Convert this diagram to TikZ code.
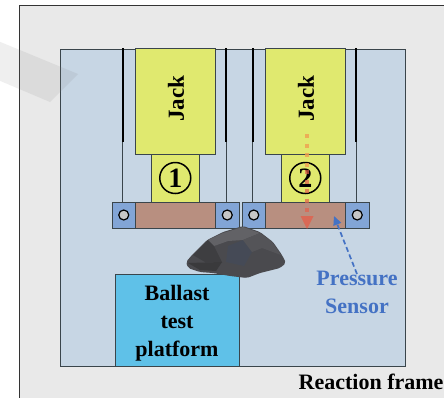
\documentclass[tikz,border=0pt]{standalone}
\usepackage{fontspec}
\setmainfont{Liberation Serif}
\usetikzlibrary{arrows.meta}
\definecolor{panelgray}{HTML}{E9E9E9}
\definecolor{framefill}{HTML}{C7D6E4}
\definecolor{jackfill}{HTML}{E0E96F}
\definecolor{brownfill}{HTML}{B88F80}
\definecolor{bluefill}{HTML}{82A5D6}
\definecolor{platfill}{HTML}{5FC1E8}
\definecolor{senscol}{HTML}{4472C4}
\definecolor{edgecol}{HTML}{3A454B}
\definecolor{rocka}{HTML}{4A4A4E}
\definecolor{rockb}{HTML}{626266}
\definecolor{rockc}{HTML}{3E3E41}
\definecolor{rockd}{HTML}{454A56}
\definecolor{rocke}{HTML}{545458}
\definecolor{rockf}{HTML}{3A3A3C}
\definecolor{loadtop}{HTML}{F0A050}
\definecolor{loadlow}{HTML}{E2604C}
\tikzset{
  lbl/.style={font=\fontsize{22}{28}\selectfont\bfseries,align=center,inner sep=0pt},
  jacklbl/.style={inner sep=0pt,rotate=90,font=\fontsize{23}{27}\selectfont\bfseries},
  boxy/.style={draw=edgecol,line width=.8pt,inner sep=0pt,outer sep=0pt,anchor=north west},
  jackbox/.style={boxy,fill=jackfill,minimum width=80pt,minimum height=105.5pt},
  pistonbox/.style={boxy,fill=jackfill,minimum width=48.5pt,minimum height=48pt},
  brownbox/.style={boxy,fill=brownfill,minimum width=80pt,minimum height=26pt},
  bluebox/.style={boxy,fill=bluefill,minimum width=23.5pt,minimum height=26pt},
  pin/.style={circle,draw=black,line width=1.2pt,fill=gray!45,minimum size=10pt,inner sep=0pt},
  num/.style={circle,draw=black,line width=1.5pt,minimum size=31pt,inner sep=0pt,font=\fontsize{28}{28}\selectfont\bfseries},
  guide/.style={draw=edgecol,line width=.7pt},
  thick guide/.style={draw=black,line width=2pt},
}
\begin{document}
\begin{tikzpicture}[x=1pt,y=-1pt]
\useasboundingbox (0,0) rectangle (444,397);
\begin{scope}
\clip (0,0) rectangle (444,397);
\fill[panelgray] (19.3,5.3) rectangle (450,400);
\draw[black!80,line width=.8pt] (19.3,400) -- (19.3,5.3) -- (450,5.3);
\node[boxy,fill=framefill,minimum width=345.7pt,minimum height=317pt] (frame) at (60,49) {};
\fill[gray,opacity=.13] (-2,41) -- (78,74) -- (50,102) -- (-2,80) -- cycle;
% guide rods
\coordinate (r1t) at (122.7,48); \coordinate (r1m) at (122.7,142);
\coordinate (r2t) at (226,48);   \coordinate (r2m) at (226,142);
\coordinate (r3t) at (252.7,48); \coordinate (r3m) at (252.7,142);
\coordinate (r4t) at (356.3,48); \coordinate (r4m) at (356.3,142);
\node[bluebox] (b1) at (112,202) {};
\node[brownbox] (s1) at (135.5,202) {};
\node[bluebox] (b2) at (215.5,202) {};
\node[bluebox] (b3) at (242,202) {};
\node[brownbox] (s2) at (265.5,202) {};
\node[bluebox] (b4) at (345.5,202) {};
\node[pin] (p1) at (b1.center) {};
\node[pin] (p2) at (b2.center) {};
\node[pin] (p3) at (b3.center) {};
\node[pin] (p4) at (b4.center) {};
\foreach \r/\b in {r1/b1,r2/b2,r3/b3,r4/b4}{
  \draw[guide] (\r t) -- (\r t |- \b.north);
  \draw[thick guide] (\r t) -- (\r m);
}
\node[pistonbox] (pa) at (151,154) {};
\node[pistonbox] (pb) at (281,154) {};
\node[jackbox] (j1) at (135.5,48.5) {};
\node[jackbox] (j2) at (265.5,48.5) {};
\node[jacklbl] (jt1) at (176,98.5) {Jack};
\node[jacklbl] (jt2) at (306,98.5) {Jack};
\node[num] (n1) at (pa.center) {1};
\node[num] (n2) at (pb.center) {2};
% platform
\node[boxy,fill=platfill,minimum width=123.5pt,minimum height=92pt] (plat) at (115.5,274) {};
\node[lbl] (pt) at (177,323) {Ballast\\test\\platform};
% rock
\fill[rocka,rounded corners=2pt] (186,262) -- (192,255) -- (207,240) -- (223,232) -- (243,226) -- (260,232) -- (273,242) -- (282,255) -- (286,263) -- (280,268) -- (260,273) -- (247,278) -- (230,276) -- (213,273) -- (200,272) -- (188,268) -- cycle;
\fill[rockb] (208,240) -- (223,233) -- (243,227) -- (260,233) -- (243,240) -- (228,241) -- (214,246) -- cycle;
\fill[rockc] (193,255) -- (208,240) -- (214,246) -- (222,262) -- (205,262) -- cycle;
\fill[rockd] (228,246) -- (243,240) -- (252,252) -- (244,266) -- (226,262) -- cycle;
\fill[rocke] (260,233) -- (272,242) -- (281,255) -- (262,248) -- (252,252) -- (243,240) -- cycle;
\fill[rockf] (188,263) -- (222,262) -- (216,271) -- (200,270) -- cycle;
% load arrow
\coordinate (la) at (307,134);
\coordinate (lm) at (307,216);
\coordinate (lb) at (307,229);
\draw[loadtop,opacity=.8,line width=3.5pt,dash pattern=on 4pt off 5.5pt] (la) -- (307,170);
\draw[loadlow,opacity=.7,line width=3.5pt,dash pattern=on 4pt off 5.5pt] (307,170) -- (lm);
\fill[loadlow,opacity=.8] (300.5,216) -- (313.5,216) -- (lb) -- cycle;
% sensor
\node[lbl,text=senscol] (sens) at (357,292) {Pressure\\Sensor};
\coordinate (st) at (357,274);
\coordinate (sh) at (334,216);
\draw[senscol,line width=1.7pt,dash pattern=on 5pt off 3pt,-{Triangle[length=9pt,width=8pt]}] (st) -- (sh);
\node[lbl,anchor=base west] (rf) at (298.5,389) {Reaction frame};
\end{scope}
\end{tikzpicture}
\end{document}
